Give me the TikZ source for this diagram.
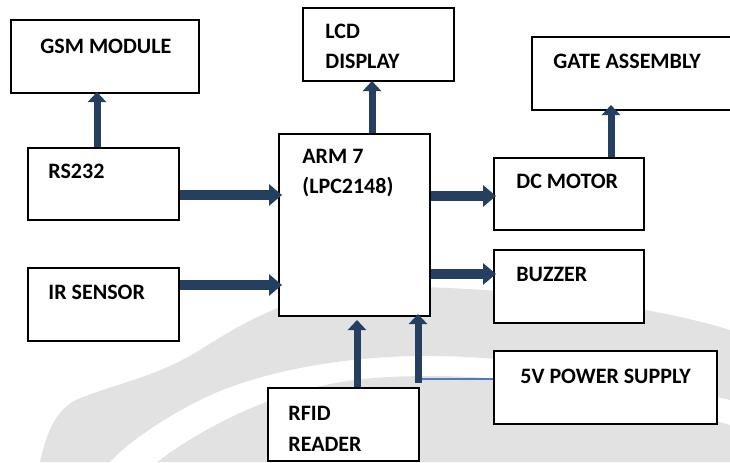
\documentclass[tikz,border=0pt]{standalone}
\usepackage{fontspec}
\setmainfont{Carlito}[BoldFont={Carlito Bold}]
\usetikzlibrary{arrows.meta,fit}
\definecolor{arrblue}{HTML}{243F60}
\definecolor{lineblue}{HTML}{4A7EBB}
\definecolor{wmgray}{HTML}{E2E2E2}
\begin{document}
\begin{tikzpicture}[x=0.5pt,y=-0.5pt,
  box/.style={draw=black,line width=1pt,inner sep=0pt,fill=white},
  lbl/.style={anchor=base west,inner sep=0pt,font=\fontsize{11}{13}\selectfont\bfseries},
  harr/.style={draw=arrblue,line width=5pt,-{Triangle[length=6.5pt,width=10.5pt]}},
  varr/.style={draw=arrblue,line width=3.5pt,-{Triangle[length=5pt,width=9pt]}},
  pline/.style={draw=lineblue,line width=0.75pt}]
\useasboundingbox (0,0) rectangle (730,462);
\fill[white] (0,0) rectangle (730,462);
% watermark
\fill[wmgray] (40,462) .. controls (48,425) and (60,405) .. (83,397)
  .. controls (120,383) and (160,375) .. (200,350)
  .. controls (250,318) and (300,290) .. (380,287)
  .. controls (500,285) and (650,305) .. (730,330)
  -- (730,400) .. controls (620,375) and (520,355) .. (420,356)
  .. controls (330,357) and (250,375) .. (200,400)
  .. controls (160,420) and (125,445) .. (110,462) -- cycle;
\fill[wmgray] (157,462) .. controls (180,445) and (220,418) .. (280,397)
  .. controls (340,378) and (380,376) .. (440,376)
  .. controls (560,378) and (660,405) .. (730,425) -- (730,462) -- cycle;
% boxes
\node[box,fit={(11,20)(199,93)}] (gsm) {};
\node[box,fit={(28,148)(179,220)}] (rs) {};
\node[box,fit={(303,8)(454,81)}] (lcd) {};
\node[box,fit={(279,134)(430,316)}] (arm) {};
\node[box,fit={(532,37)(740,110)}] (gate) {};
\node[box,fit={(494,158)(644,230)}] (dc) {};
\node[box,fit={(28,268)(179,341)}] (ir) {};
\node[box,fit={(494,250)(644,323)}] (buz) {};
\node[box,fit={(494,351)(717,424)}] (ps) {};
\node[box,fit={(268,388)(419,461)}] (rfid) {};
% labels
\node[lbl] (gsmt) at (40,53) {GSM MODULE};
\node[lbl] (rst) at (48,178) {RS232};
\node[lbl] (lcdt1) at (325,38) {LCD};
\node[lbl] (lcdt2) at (325,68) {DISPLAY};
\node[lbl] (armt1) at (302,163) {ARM 7};
\node[lbl] (armt2) at (302,193) {(LPC2148)};
\node[lbl] (gatet) at (553,68) {GATE ASSEMBLY};
\node[lbl] (dct) at (516,188) {DC MOTOR};
\node[lbl] (irt) at (48,299) {IR SENSOR};
\node[lbl] (buzt) at (516,281) {BUZZER};
\node[lbl] (pst) at (520,383) {5V POWER SUPPLY};
\node[lbl] (rft1) at (288,420) {RFID};
\node[lbl] (rft2) at (288,451) {READER};
% connectors
\draw[harr,shorten >=-2pt] (rs.east |- 0,195) -- (arm.west |- 0,195);
\draw[harr,shorten >=-2pt] (ir.east |- 0,285) -- (arm.west |- 0,285);
\draw[harr,shorten >=-1.5pt] (arm.east |- 0,196) -- (dc.west |- 0,196);
\draw[harr,shorten >=-1.5pt] (arm.east |- 0,274) -- (buz.west |- 0,274);
\draw[varr,shorten >=-1pt] (rs.north -| 97,0) -- (gsm.south -| 97,0);
\draw[varr,shorten >=-0.5pt] (arm.north -| 372,0) -- (lcd.south -| 372,0);
\draw[varr,shorten >=-3pt] (dc.north -| 611,0) -- (gate.south -| 611,0);
\draw[varr,shorten >=1.5pt] (rfid.north -| 357,0) -- (arm.south -| 357,0);
\coordinate (pj) at (418,379);
\draw[pline] (ps.west |- pj) -- (pj);
\draw[varr,shorten <=-2pt,shorten >=-1.5pt] (pj) -- (arm.south -| pj);
\end{tikzpicture}
\end{document}
